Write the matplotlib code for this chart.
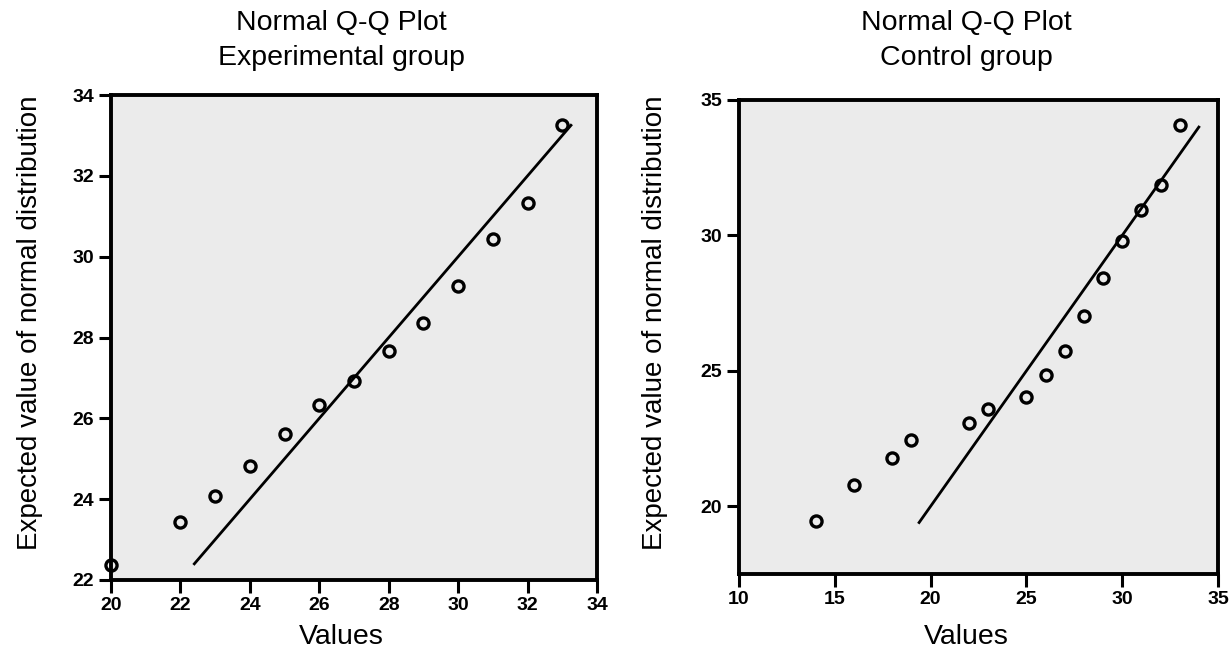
import matplotlib
matplotlib.use("Agg")
import matplotlib.pyplot as plt

plt.rcParams['font.family'] = ['Liberation Sans', 'DejaVu Sans']

# experimental group
exp_values = [20, 22, 23, 24, 25, 26, 27, 28, 29, 30, 31, 32, 33]
exp_expected = [22.37, 23.43, 24.08, 24.81, 25.60, 26.34, 26.93, 27.67, 28.35, 29.28, 30.44, 31.32, 33.25]
exp_line = [22.4, 33.25]

# control group
ctl_values = [14, 16, 18, 19, 22, 23, 25, 26, 27, 28, 29, 30, 31, 32, 33]
ctl_expected = [19.44, 20.77, 21.80, 22.45, 23.08, 23.61, 24.03, 24.86, 25.73, 27.02, 28.44, 29.80, 30.93, 31.88, 34.06]
ctl_line = [19.4, 34.0]

W, H = 1230, 654
fig = plt.figure(figsize=(W / 100, H / 100), dpi=100)


def px_axes(x0, y0, x1, y1):
    return fig.add_axes([x0 / W, 1 - y1 / H, (x1 - x0) / W, (y1 - y0) / H])


def qq_panel(ax, vals, expected, line, xlim, ylim, xticks, yticks, subtitle, cx, ylab_x):
    ax.set_facecolor('#ebebeb')
    ax.plot(line, line, color='black', lw=2, zorder=2)
    ax.plot(vals, expected, linestyle='none', marker='o', ms=8,
            mfc='none', mec='black', mew=2.4, zorder=3, clip_on=False)
    ax.set_xlim(*xlim)
    ax.set_ylim(*ylim)
    ax.set_xticks(xticks)
    ax.set_yticks(yticks)
    for s in ax.spines.values():
        s.set_linewidth(2.8)
    ax.tick_params(direction='out', length=9, width=2.2, pad=3, labelsize=14)
    for lab in ax.get_xticklabels() + ax.get_yticklabels():
        lab.set_fontweight('bold')
    fig.text(cx / W, 1 - 23 / H, 'Normal Q-Q Plot', ha='center', va='center', fontsize=20.5)
    fig.text(cx / W, 1 - 58 / H, subtitle, ha='center', va='center', fontsize=20.5)
    fig.text(cx / W, 1 - 637 / H, 'Values', ha='center', va='center', fontsize=20.5)
    fig.text(ylab_x / W, 1 - 323 / H, 'Expected value of normal distribution',
             ha='center', va='center', rotation=90, fontsize=20)


ax1 = px_axes(111, 95, 597, 580)
qq_panel(ax1, exp_values, exp_expected, exp_line, (20, 34), (22, 34),
         range(20, 35, 2), range(22, 35, 2), 'Experimental group', 341, 30)

ax2 = px_axes(739, 100, 1218, 574)
qq_panel(ax2, ctl_values, ctl_expected, ctl_line, (10, 35), (17.5, 35),
         range(10, 36, 5), range(20, 36, 5), 'Control group', 966, 655)

fig.savefig('out.png', dpi=100)
